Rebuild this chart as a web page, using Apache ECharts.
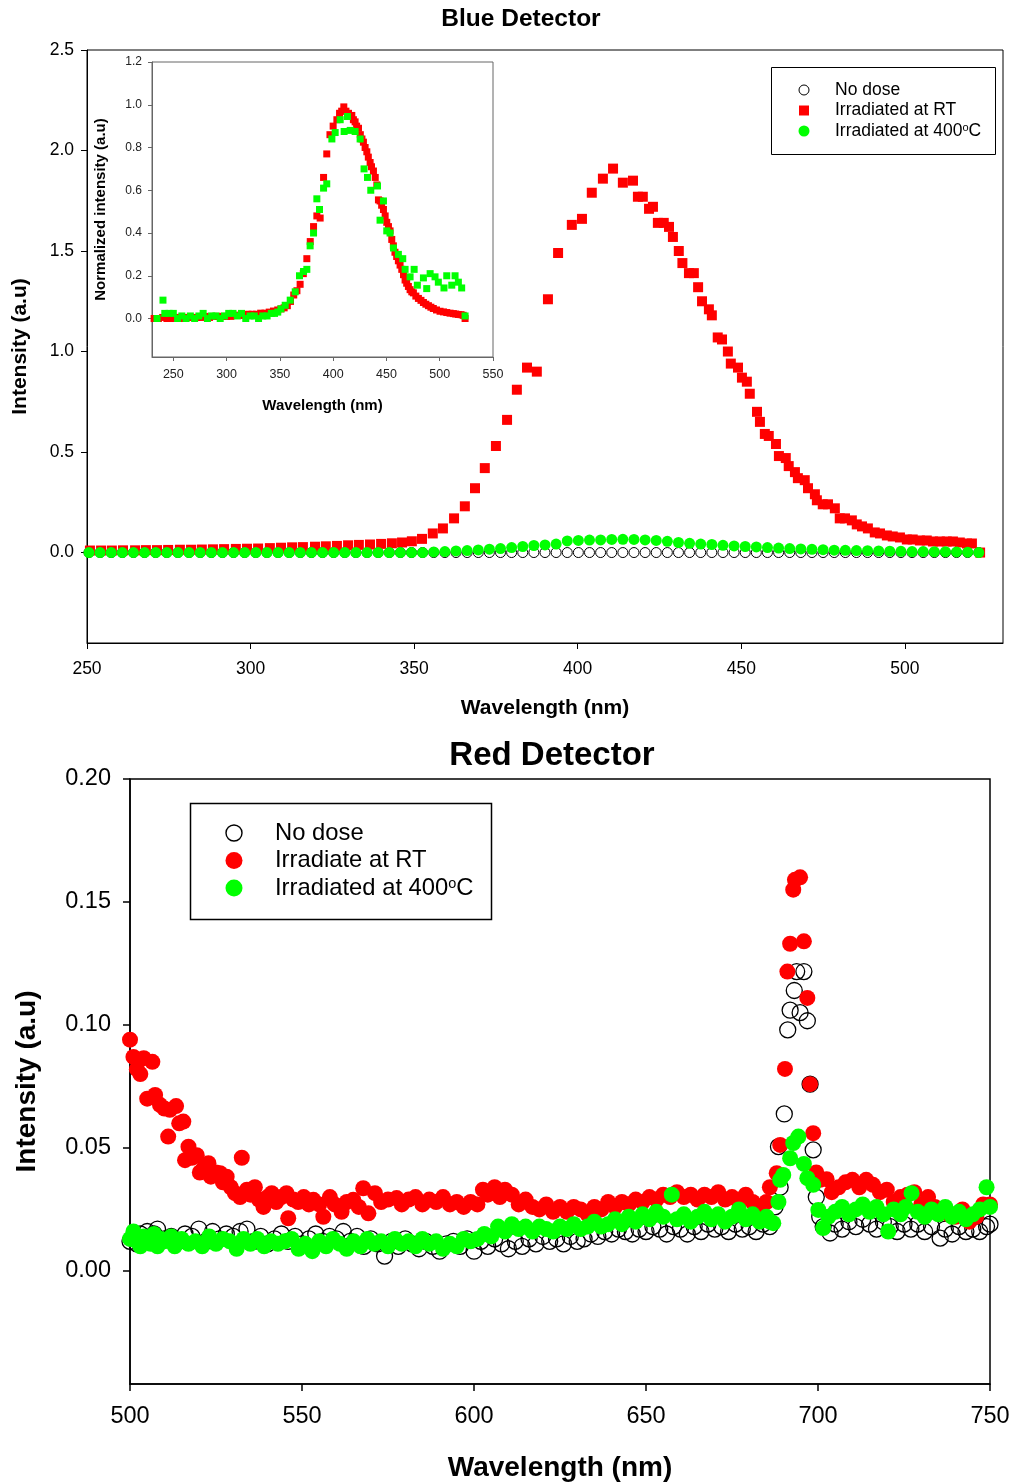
<!DOCTYPE html>
<html><head><meta charset="utf-8">
<script src="https://cdn.jsdelivr.net/npm/echarts@6/dist/echarts.min.js"></script>
<style>html,body{margin:0;padding:0;background:#fff}#c{width:1015px;height:1484px}</style>
</head><body><div id="c"></div>
<script>
// ---------------- DATA ----------------
// Blue detector, main plot: wavelength grid of "No dose" and "Irradiated at 400°C"
const blueWl = [250.6,254.0,257.4,260.8,264.2,267.6,271.0,274.4,277.8,281.2,284.6,288.0,291.4,294.8,298.2,301.6,305.0,308.4,311.8,315.2,
318.6,322.0,325.4,328.8,332.2,335.6,339.0,342.4,345.8,349.2,352.6,356.0,359.4,362.8,366.2,369.6,373.0,376.4,379.8,383.2,
386.6,390.0,393.4,396.8,400.2,403.6,407.0,410.4,413.8,417.2,420.6,424.0,427.4,430.8,434.2,437.6,441.0,444.4,447.8,451.2,
454.6,458.0,461.4,464.8,468.2,471.6,475.0,478.4,481.8,485.2,488.6,492.0,495.4,498.8,502.2,505.6,509.0,512.4,515.8,519.2,522.6];
const blueNoDose = [0,0,0,0,0,0,0,0,0,0,0,0,0,0,0,0,0,0,0,0,0,0,0,0,0,0,0,0,0,0,0,0,0,0,0,0,0,0,0,0,
0,0,0,0,0,0,0,0,0,0,0,0,0,0,0,0,0,0,0,0,0,0,0,0,0,0,0,0,0,0,0,0,0,0,0,0,0,0,0,0,0];
const blue400 = [0,0,0,0,0,0,0,0,0,0,0,0,0,0,0,0,0,0,0,0,0,0,0,0,0,0,0,0,0,0,0,
0.003,0.005,0.008,0.010,0.013,0.017,0.020,0.025,0.030,
0.035,0.038,0.042,0.058,0.060,0.062,0.063,0.065,0.066,0.065,
0.063,0.060,0.056,0.050,0.046,0.042,0.040,0.036,0.033,0.030,
0.028,0.025,0.022,0.020,0.018,0.016,0.014,0.012,0.011,0.010,
0.009,0.008,0.007,0.006,0.005,0.005,0.004,0.004,0.003,0.002,0.0];
// Blue detector, main plot: "Irradiated at RT"
const blueRTWl = [250.9,254.3,257.6,261.0,264.7,268.0,271.4,274.8,278.4,281.8,285.1,288.5,291.9,295.5,298.9,302.3,305.9,309.3,312.7,316.0,
319.7,323.0,326.4,329.8,333.1,336.5,339.9,343.2,346.3,349.3,352.4,355.7,358.8,362.2,365.5,368.6,371.6,375.0,378.4,381.4,
384.5,387.5,390.9,394.0,398.2,401.3,404.3,407.7,410.8,413.8,416.9,418.4,419.9,421.8,423.0,424.5,426.3,427.9,429.1,430.9,
432.0,434.0,435.5,436.8,438.0,440.1,441.0,442.8,444.1,445.9,446.8,449.0,450.2,451.7,452.6,454.8,455.7,457.2,458.4,460.6,
461.5,463.6,464.5,466.4,467.3,469.4,470.4,472.5,473.1,474.9,476.5,478.6,480.1,481.7,483.8,485.3,486.9,488.7,490.8,492.4,
494.5,496.3,498.5,500.6,502.4,504.6,506.7,508.6,510.7,512.8,514.7,516.8,519.0,520.5,523.0];
const blueRT = [0.010,0.010,0.010,0.011,0.011,0.012,0.012,0.013,0.014,0.014,0.015,0.016,0.017,0.018,0.019,0.020,0.022,0.024,0.026,0.027,
0.029,0.031,0.033,0.036,0.038,0.040,0.043,0.046,0.050,0.056,0.068,0.095,0.12,0.17,0.23,0.32,0.42,0.53,0.66,0.81,
0.92,0.90,1.26,1.49,1.63,1.66,1.79,1.86,1.91,1.84,1.85,1.77,1.77,1.71,1.72,1.64,1.64,1.62,1.57,1.50,
1.44,1.39,1.39,1.32,1.25,1.21,1.18,1.07,1.06,1.00,0.94,0.92,0.87,0.85,0.79,0.70,0.65,0.59,0.58,0.54,
0.48,0.47,0.43,0.40,0.37,0.36,0.32,0.29,0.26,0.24,0.24,0.22,0.17,0.17,0.16,0.14,0.13,0.12,0.10,0.095,
0.085,0.08,0.075,0.065,0.065,0.06,0.06,0.055,0.055,0.055,0.055,0.05,0.045,0.045,0.0];
// Inset: normalized intensity
const insetRTWl = [232,236,240,244,248,252,256,260,264,268,272,276,280,284,288,292,296,300,304,308,312,316,320,324,328,332,336,340,344,348,
351,354,357,360,363,366,369,372,375.3,378.5,381.6,384.7,387.8,391,394,397,400,
403.5,406,408,410,412,414.4,417.5,419,420.6,422,423.8,425.5,427,428.4,430,431.6,433,434.7,436,437.8,
439.5,441,442.5,444,445.5,447.2,448.8,450.3,451.9,453.4,455,456.5,458,459.6,461.2,462.8,464.4,466,467.5,469,
470.6,472.2,473.8,475.3,477.6,480,482.4,484.7,487,489.4,491.7,494,497,500.3,503.5,506.6,509.7,512.8,515,517.5,520,522,523.8];
const insetRT = [0,0,0.005,0,0,0.005,0.005,0,0.005,0.005,0.005,0.005,0.01,0.005,0.01,0.01,0.01,0.01,0.01,0.015,
0.015,0.015,0.02,0.02,0.02,0.025,0.025,0.03,0.035,0.04,
0.045,0.05,0.06,0.08,0.11,0.13,0.16,0.21,0.28,0.36,0.43,0.48,0.47,0.66,0.77,0.86,0.90,
0.93,0.96,0.97,0.99,0.97,0.96,0.95,0.93,0.92,0.90,0.89,0.86,0.84,0.825,0.80,0.78,0.755,0.73,0.71,0.69,
0.66,0.625,0.555,0.55,0.53,0.51,0.48,0.45,0.43,0.41,0.37,0.34,0.31,0.29,0.27,0.25,0.23,0.205,0.18,0.165,
0.15,0.135,0.125,0.12,0.105,0.094,0.085,0.075,0.067,0.06,0.053,0.047,0.04,0.034,0.031,0.028,0.025,0.023,0.021,0.019,0.018,0.015,0.0];
const inset400Wl = [234.7,240.3,242,246,250,254,258,262,266,270,274,278,282,286,290,294,298,302,306,310,314,318,322,326,330,334,338,342,
345,348,351,355,359.7,364.4,368.4,372.2,375.3,378.4,381.6,384.7,387.2,391,394,398.8,401.9,406.6,410.3,413.4,416,420.6,425.3,429,
432.2,435.3,441.6,444,447.2,450.3,453.4,456.6,461.2,465.3,467.5,472.2,476,479,484.7,487.8,491,495.6,498.7,504,
506.6,511.3,514.4,517.5,520.6,523.8];
const inset400 = [0,0.086,0.024,0.024,0.024,0,0.012,0,0.012,0,0.012,0.024,0,0.012,0.012,0,0.012,0.024,0.024,0.012,0.024,0,0.012,0.012,0,0.012,0.012,0.024,
0.024,0.03,0.045,0.062,0.086,0.125,0.20,0.22,0.23,0.34,0.40,0.56,0.51,0.61,0.63,0.84,0.87,0.93,0.875,0.945,0.88,0.875,0.84,0.70,
0.66,0.60,0.62,0.46,0.55,0.41,0.40,0.33,0.30,0.28,0.23,0.195,0.23,0.156,0.19,0.14,0.21,0.195,0.17,0.143,
0.20,0.156,0.20,0.17,0.143,0.012];
// Red detector
const redNoDoseWl = [500,501,502,503,504,505,506,507,508,510,512,514,516,518,520,522,524,526,528,530,
532,534,536,538,540,542,544,546,548,550,552,554,556,558,560,562,564,566,568,570,
572,574,576,578,580,582,584,586,588,590,592,594,596,598,600,602,604,606,608,610,
612,614,616,618,620,622,624,626,628,630,632,634,636,638,640,642,644,646,648,650,
652,654,656,658,660,662,664,666,668,670,672,674,676,678,680,682,684,686,687.5,688.5,
689,690.2,691.2,691.9,693.1,693.8,694.8,695.9,696.9,697.7,698.6,699.5,700.5,701.5,703.5,705,707,709,711,713,
715,717,719,721,723,725,727,729,731,733,735.5,737,739,741,743,745,747,749,750];
const redNoDose = [0.012,0.014,0.011,0.015,0.013,0.016,0.012,0.015,0.017,0.013,0.014,0.012,0.015,0.014,0.017,0.012,0.016,0.013,0.015,0.014,
0.016,0.017,0.012,0.014,0.011,0.013,0.015,0.012,0.014,0.011,0.013,0.015,0.012,0.014,0.013,0.016,0.012,0.014,0.010,0.013,
0.011,0.006,0.012,0.010,0.013,0.011,0.009,0.012,0.010,0.008,0.011,0.012,0.010,0.013,0.008,0.012,0.010,0.013,0.011,0.009,
0.012,0.010,0.013,0.011,0.014,0.012,0.013,0.011,0.014,0.012,0.013,0.015,0.014,0.016,0.015,0.017,0.016,0.015,0.017,0.016,
0.018,0.017,0.015,0.018,0.017,0.015,0.018,0.016,0.019,0.017,0.018,0.016,0.019,0.017,0.018,0.016,0.019,0.018,0.026,0.0505,
0.034,0.0638,0.098,0.106,0.114,0.1217,0.105,0.1217,0.1017,0.0759,0.0492,0.030,0.022,0.018,0.0154,0.019,0.017,0.020,0.018,0.021,
0.019,0.017,0.020,0.018,0.016,0.019,0.017,0.019,0.016,0.018,0.0133,0.017,0.015,0.018,0.016,0.017,0.016,0.018,0.019];
const redRTWl = [500,501,502,503,504,505,506.5,507.3,508.7,510,511.1,511.6,513.4,514.3,515.5,516,517,518,519.4,520.3,
521.5,522.8,523.5,525,526.2,527,528.1,529.3,530.5,532,532.5,534,535,536.3,537.5,538.8,540,541.2,542.5,544,
545.5,546,547.5,548.9,550.5,552,553.3,555,556.2,558.1,559.5,561.5,563,564.9,566.5,567.8,569.3,571.2,573,575,
577.5,579,581,583,585,587,589,591,593,595,597,599,601,602.6,604,606,607.5,609,611,613,
615,617,619,621,623,625,627,629,631,633,635,637,639,641,643,645,647,649,651,653,
655,657,659,661,663,665,667,669,671,673,675,677,679,681,683,685,686,688,689,690.4,
691.1,691.9,692.8,693.3,694.8,695.9,696.9,697.7,698.6,699.5,700.6,702.5,704,706,708,710,712,714,716,718,
720,722,724,726,728,730,732,734,736,738,740,742,744,746,748,750];
const redRT = [0.094,0.087,0.082,0.080,0.0865,0.070,0.085,0.0715,0.0675,0.066,0.0546,0.0655,0.067,0.060,0.0607,0.045,0.0505,0.046,0.047,0.040,
0.042,0.0438,0.0383,0.040,0.0397,0.036,0.0383,0.034,0.0316,0.030,0.046,0.033,0.031,0.034,0.029,0.026,0.030,0.0316,0.028,0.030,
0.0316,0.0214,0.029,0.028,0.030,0.027,0.0289,0.027,0.022,0.030,0.027,0.024,0.028,0.0289,0.026,0.0336,0.0234,0.0316,0.028,0.029,
0.0296,0.027,0.029,0.030,0.027,0.029,0.028,0.030,0.027,0.028,0.026,0.028,0.027,0.033,0.031,0.034,0.030,0.033,0.031,0.027,
0.029,0.026,0.025,0.027,0.024,0.026,0.024,0.026,0.025,0.023,0.026,0.025,0.028,0.026,0.028,0.027,0.029,0.028,0.030,0.029,
0.031,0.030,0.032,0.030,0.031,0.029,0.031,0.030,0.032,0.029,0.030,0.028,0.031,0.028,0.026,0.028,0.034,0.0397,0.0512,0.0821,
0.1217,0.133,0.155,0.159,0.160,0.134,0.111,0.0759,0.056,0.040,0.037,0.0373,0.032,0.034,0.036,0.037,0.034,0.037,0.035,0.032,
0.033,0.028,0.030,0.031,0.032,0.027,0.030,0.026,0.024,0.023,0.022,0.025,0.020,0.022,0.027,0.027];
const red400Wl = [500,501,502,503,504,505,506,507,508,509,510,512,513,515,517,519,521,523,525,527,
529,531,533,535,537,539,541,543,545,547,549,551,553,555,557,559,561,563,565,567,
569,571,573,575,577,579,581,583,585,587,589,591,593,595,597,599,601,603,605,607,
609,611,613,615,617,619,621,623,625,627,629,631,633,635,637,639,641,643,645,647,
649,651,653,655,657.5,659,661,663,665,667,669,671,673,675,677,679,681,683,685,686,
687,688.5,689,689.9,691.9,692.8,694.3,695.9,696.9,698.6,700.1,701.5,703,705,707,709,711,713,715,717,
719,720.4,722,724,725.5,727.2,729,731,733,735,737,739,741,743,745,747,749,750];
const red400 = [0.013,0.016,0.012,0.010,0.014,0.012,0.011,0.015,0.010,0.013,0.012,0.014,0.010,0.013,0.011,0.012,0.010,0.014,0.011,0.013,
0.012,0.009,0.013,0.011,0.013,0.010,0.012,0.011,0.012,0.013,0.009,0.011,0.008,0.012,0.010,0.013,0.011,0.009,0.012,0.010,
0.013,0.011,0.012,0.010,0.013,0.011,0.012,0.010,0.013,0.011,0.012,0.009,0.011,0.010,0.013,0.012,0.013,0.015,0.014,0.018,
0.016,0.019,0.017,0.018,0.016,0.018,0.017,0.016,0.018,0.017,0.019,0.017,0.018,0.020,0.018,0.019,0.021,0.019,0.022,0.020,
0.023,0.021,0.024,0.022,0.031,0.021,0.023,0.020,0.022,0.024,0.021,0.023,0.020,0.022,0.025,0.021,0.023,0.020,0.022,0.020,
0.0194,0.028,0.037,0.039,0.0458,0.052,0.0546,0.0435,0.0377,0.035,0.0248,0.0174,0.022,0.024,0.026,0.023,0.025,0.027,0.024,0.026,
0.023,0.016,0.025,0.023,0.026,0.0316,0.024,0.022,0.025,0.023,0.026,0.022,0.024,0.021,0.023,0.025,0.034,0.026];
// Tick labels and legend labels
const blueXTicks = [250,300,350,400,450,500];
const blueYTicks = [0,0.5,1.0,1.5,2.0,2.5];
const insetXTicks = [250,300,350,400,450,500,550];
const insetYTicks = [0,0.2,0.4,0.6,0.8,1.0,1.2];
const redXTicks = [500,550,600,650,700,750];
const redYTicks = [0,0.05,0.10,0.15,0.20];
const blueLegend = ['No dose', 'Irradiated at RT', 'Irradiated at 400{s|o}C'];
const redLegend = ['No dose', 'Irradiate at RT', 'Irradiated at 400{s|o}C'];

// ---------------- CHART ----------------
const FONT = '"Liberation Sans", Arial, Helvetica, sans-serif';
const zip = (xs, ys) => xs.map((x, i) => [x, ys[i]]);
const chart = echarts.init(document.getElementById('c'));

function axis(o) {
  const col = o.color || '#000';
  return {
    gridIndex: o.grid, type: 'value', min: o.min, max: o.max,
    axisLine: {show: true, onZero: false, lineStyle: {color: col, width: o.lw || 1}},
    axisTick: {show: true, inside: false, length: o.tick, customValues: o.ticks, lineStyle: {color: col, width: o.lw || 1}},
    axisLabel: {customValues: o.ticks, fontFamily: FONT, fontSize: o.fs, color: o.lc || '#000', margin: o.margin,
                formatter: o.fmt || (v => String(v))},
    splitLine: {show: false},
    name: o.name, nameLocation: 'middle', nameGap: o.gap,
    nameTextStyle: {fontFamily: FONT, fontSize: o.nfs, fontWeight: 'bold', color: '#000'}
  };
}
function sc(name, xi, data, symbol, size, fill, border, bw, z) {
  return {type: 'scatter', name, xAxisIndex: xi, yAxisIndex: xi, data, symbol, symbolSize: size,
    clip: false, silent: true, z: z,
    itemStyle: {color: fill, borderColor: border || fill, borderWidth: border ? bw : 0, opacity: 1}};
}
// legend box drawn as graphic: symbols + labels
function legendBox(box, items, fs, supFs) {
  const els = [{type: 'rect', shape: {x: box.x, y: box.y, width: box.w, height: box.h},
    style: {fill: '#fff', stroke: '#000', lineWidth: box.lw}, z: 100, silent: true}];
  items.forEach(it => {
    els.push(it.sym);
    els.push({type: 'text', x: box.tx, y: it.y, z: 101, silent: true,
      style: {text: it.label, fontFamily: FONT, fontSize: fs, fill: '#000',
              align: 'left', verticalAlign: 'middle', textAlign: 'left', textVerticalAlign: 'middle',
              rich: {s: {fontFamily: FONT, fontSize: supFs, fill: '#000', verticalAlign: 'top'}}}});
  });
  return els;
}
const topLegend = legendBox({x: 771.5, y: 67.5, w: 224, h: 87, lw: 1, tx: 835}, [
  {y: 90, label: blueLegend[0], sym: {type: 'circle', shape: {cx: 804, cy: 90, r: 5}, style: {fill: '#fff', stroke: '#000', lineWidth: 1}, z: 101, silent: true}},
  {y: 110.5, label: blueLegend[1], sym: {type: 'rect', shape: {x: 799, y: 105.5, width: 10, height: 10}, style: {fill: '#ff0000'}, z: 101, silent: true}},
  {y: 131, label: blueLegend[2], sym: {type: 'circle', shape: {cx: 804, cy: 131, r: 5.5}, style: {fill: '#00ff00'}, z: 101, silent: true}}
], 17.5, 11);
const botLegend = legendBox({x: 190.5, y: 803.5, w: 301, h: 116, lw: 1.5, tx: 275}, [
  {y: 833, label: redLegend[0], sym: {type: 'circle', shape: {cx: 234, cy: 833, r: 8}, style: {fill: '#fff', stroke: '#000', lineWidth: 1.4}, z: 101, silent: true}},
  {y: 860.5, label: redLegend[1], sym: {type: 'circle', shape: {cx: 234, cy: 860.5, r: 8.5}, style: {fill: '#ff0000'}, z: 101, silent: true}},
  {y: 888, label: redLegend[2], sym: {type: 'circle', shape: {cx: 234, cy: 888, r: 8.5}, style: {fill: '#00ff00'}, z: 101, silent: true}}
], 23.8, 14.5);

const option = {
  animation: false,
  backgroundColor: '#fff',
  title: [
    {text: 'Blue Detector', left: 521, top: 7, textAlign: 'center', padding: 0,
     textStyle: {fontFamily: FONT, fontSize: 24.5, fontWeight: 'bold', color: '#000'}},
    {text: 'Red Detector', left: 552, top: 739, textAlign: 'center', padding: 0,
     textStyle: {fontFamily: FONT, fontSize: 33, fontWeight: 'bold', color: '#000'}}
  ],
  grid: [
    {left: 87, top: 50, width: 916, height: 593, show: true, borderColor: '#000', borderWidth: 1, backgroundColor: 'rgba(0,0,0,0)'},
    {left: 152, top: 62, width: 341, height: 295, show: true, borderColor: '#666', borderWidth: 1, backgroundColor: '#fff'},
    {left: 130, top: 779, width: 860, height: 605, show: true, borderColor: '#000', borderWidth: 1.5, backgroundColor: 'rgba(0,0,0,0)'}
  ],
  xAxis: [
    axis({grid: 0, min: 250, max: 530, ticks: blueXTicks, tick: 6, fs: 17.5, margin: 17, name: 'Wavelength (nm)', gap: 55, nfs: 21}),
    axis({grid: 1, min: 230, max: 550, ticks: insetXTicks, tick: 4, fs: 12.5, margin: 11, name: 'Wavelength (nm)', gap: 41, nfs: 15, color: '#666', lc: '#222'}),
    axis({grid: 2, min: 500, max: 750, ticks: redXTicks, tick: 7, fs: 23.5, margin: 21, name: 'Wavelength (nm)', gap: 70, nfs: 28, lw: 1.5})
  ],
  yAxis: [
    axis({grid: 0, min: -0.45, max: 2.5, ticks: blueYTicks, tick: 6, fs: 17.5, margin: 13, fmt: v => v.toFixed(1), name: 'Intensity (a.u)', gap: 56, nfs: 21}),
    axis({grid: 1, min: -0.18, max: 1.2, ticks: insetYTicks, tick: 4, fs: 12, margin: 10, fmt: v => v.toFixed(1), name: 'Normalized intensity (a.u)', gap: 44, nfs: 15, color: '#666', lc: '#222'}),
    axis({grid: 2, min: -0.046, max: 0.2, ticks: redYTicks, tick: 7, fs: 23.5, margin: 19, fmt: v => v.toFixed(2), name: 'Intensity (a.u)', gap: 89, nfs: 28, lw: 1.5})
  ],
  graphic: {elements: topLegend.concat(botLegend)},
  series: [
    sc('No dose', 0, zip(blueWl, blueNoDose), 'circle', 10, 'rgba(255,255,255,0)', '#000', 1, 2),
    sc('Irradiated at RT', 0, zip(blueRTWl, blueRT), 'rect', 10, '#ff0000', null, 0, 3),
    sc('Irradiated at 400°C', 0, zip(blueWl, blue400), 'circle', 11, '#00ff00', null, 0, 4),
    sc('Inset RT', 1, zip(insetRTWl, insetRT), 'rect', 7, '#ff0000', null, 0, 5),
    sc('Inset 400°C', 1, zip(inset400Wl, inset400), 'rect', 7, '#00ff00', null, 0, 6),
    sc('Red No dose', 2, zip(redNoDoseWl, redNoDose), 'circle', 16, 'rgba(255,255,255,0)', '#000', 1.3, 2),
    sc('Irradiate at RT', 2, zip(redRTWl, redRT), 'circle', 16, '#ff0000', null, 0, 3),
    sc('Red 400°C', 2, zip(red400Wl, red400), 'circle', 16, '#00ff00', null, 0, 4)
  ]
};
chart.setOption(option);
</script>
</body></html>
